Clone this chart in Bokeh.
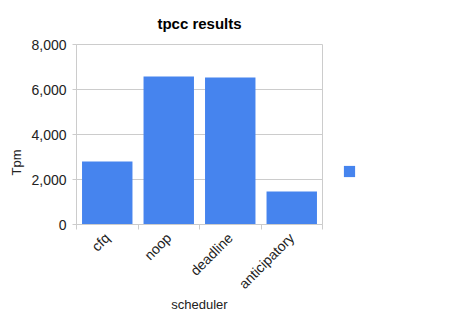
from bokeh.plotting import figure
from bokeh.models import (Range1d, FixedTicker, NumeralTickFormatter, Legend,
                          LegendItem, ColumnDataSource, Title)
from bokeh.embed import file_html
from bokeh.resources import INLINE
import math

schedulers = ["cfq", "noop", "deadline", "anticipatory"]
tpm = [2800, 6580, 6530, 1470]
y_ticks = [0, 2000, 4000, 6000, 8000]

xpos = [i + 0.5 for i in range(len(schedulers))]
src = ColumnDataSource(dict(x=xpos, top=tpm))

FONT = "Liberation Sans"
GRID = "#cccccc"
BLUE = "#4684EE"

p = figure(frame_width=246, frame_height=180, output_backend="svg", toolbar_location=None,
           x_range=Range1d(0, len(schedulers)), y_range=Range1d(0, 8000),
           min_border_left=76, min_border_right=128, min_border_top=44,
           min_border_bottom=96, title="tpcc results")
p.outline_line_color = GRID
p.background_fill_color = "white"
p.border_fill_color = "white"

p.title.align = "center"
p.title.text_font = FONT
p.title.text_font_size = "15px"
p.title.text_font_style = "bold"
p.title.text_color = "#000000"
p.title.standoff = 25

r = p.vbar(x="x", top="top", width=0.82, source=src, color=BLUE, line_color=None)

# x axis
xa = p.xaxis[0]
xa.ticker = FixedTicker(ticks=xpos, minor_ticks=list(range(len(schedulers) + 1)))
xa.major_label_overrides = {x: s for x, s in zip(xpos, schedulers)}
xa.major_label_orientation = math.pi / 4
xa.major_tick_line_color = None
xa.major_tick_out = 0
xa.major_tick_in = 0
xa.minor_tick_line_color = GRID
xa.minor_tick_out = 5
xa.minor_tick_in = 0
xa.axis_line_color = GRID
xa.major_label_text_font = FONT
xa.major_label_text_font_size = "14px"
xa.major_label_text_color = "#222222"
xa.major_label_standoff = 6
xa.axis_label = "scheduler"
xa.axis_label_text_font = FONT
xa.axis_label_text_font_size = "13px"
xa.axis_label_text_font_style = "normal"
xa.axis_label_text_color = "#222222"
xa.axis_label_standoff = -3

# y axis
ya = p.yaxis[0]
ya.ticker = FixedTicker(ticks=y_ticks)
ya.formatter = NumeralTickFormatter(format="0,0")
ya.minor_tick_line_color = None
ya.major_tick_line_color = GRID
ya.major_tick_out = 4
ya.major_tick_in = 0
ya.axis_line_color = GRID
ya.major_label_text_font = FONT
ya.major_label_text_font_size = "14px"
ya.major_label_text_color = "#222222"
ya.major_label_standoff = 6

ytitle = Title(text="Tpm", align="left", offset=49, standoff=9,
               text_font=FONT, text_font_size="13px", text_font_style="normal",
               text_color="#222222")
p.add_layout(ytitle, "left")

p.xgrid.grid_line_color = None
p.ygrid.grid_line_color = GRID

legend = Legend(items=[LegendItem(label=" ", renderers=[r])],
                location=(20, 46), border_line_color=None,
                background_fill_alpha=0, padding=0, margin=0, spacing=0,
                glyph_width=14, glyph_height=14, label_width=0,
                label_standoff=0, label_text_font_size="8px")
p.add_layout(legend, "right")

open("out.html", "w").write(file_html(p, INLINE))
